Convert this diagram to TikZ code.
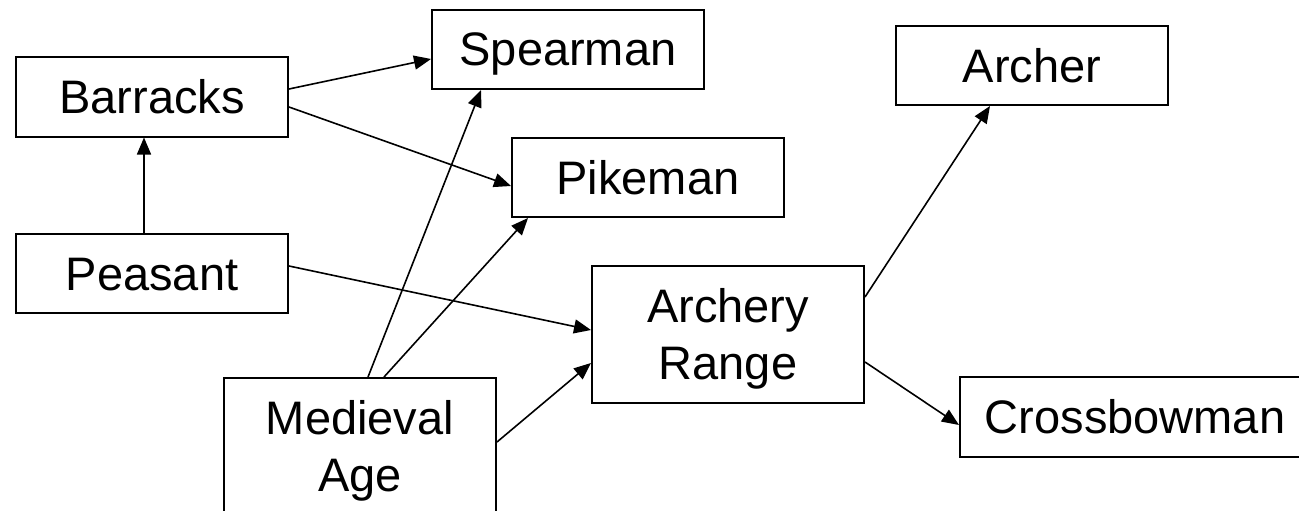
\documentclass[tikz,border=0pt]{standalone}
\usepackage{fontspec}
\setmainfont{Liberation Sans}
\usetikzlibrary{arrows.meta}
\begin{document}
\begin{tikzpicture}[x=1pt,y=-1pt,
  box/.style={draw, line width=2pt, minimum width=272pt, minimum height=79pt,
    inner sep=0pt, font=\fontsize{47}{57}\selectfont, text height=33pt,
    text depth=0pt, align=center},
  tallbox/.style={box, minimum height=137pt, text height=90pt},
  conn/.style={line width=1.6pt, -{Triangle[length=17pt,width=14pt]}}]
\useasboundingbox (0,0) rectangle (1299,511);
\clip (0,0) rectangle (1299,511);
\fill[white] (0,0) rectangle (1299,511);
\node[box] (barracks) at (152,97) {Barracks};
\node[box] (peasant) at (152,273.5) {Peasant};
\node[box] (spearman) at (568,49.5) {Spearman};
\node[box] (pikeman) at (648,177.5) {Pikeman};
\node[box] (archer) at (1032,65.5) {Archer};
\node[tallbox] (archery) at (728,334.5) {Archery\\Range};
\node[box, minimum width=350pt, minimum height=80pt] (crossbow) at (1135,417) {Crossbowman};
\node[tallbox] (medieval) at (360,446.5) {Medieval\\Age};
\draw[conn] ([xshift=-8pt]peasant.north) -- ([xshift=-8pt]barracks.south);
\draw[conn] ([yshift=8pt]barracks.east) -- ([yshift=-9.5pt]spearman.west);
\draw[conn] ([yshift=-10pt]barracks.east) -- ([yshift=-8.5pt]pikeman.west);
\draw[conn] ([yshift=7.5pt]peasant.east) -- ([yshift=4.5pt]archery.west);
\draw[conn] ([xshift=8pt]medieval.north) -- ([xshift=-87pt]spearman.south);
\draw[conn] ([xshift=24pt]medieval.north) -- ([xshift=-120pt]pikeman.south);
\draw[conn] ([yshift=4.5pt]medieval.east) -- ([yshift=-28.5pt]archery.west);
\draw[conn] ([yshift=37.5pt]archery.east) -- ([xshift=-42pt]archer.south);
\draw[conn] ([yshift=-27.5pt]archery.east) -- ([yshift=-8pt]crossbow.west);
\end{tikzpicture}
\end{document}
